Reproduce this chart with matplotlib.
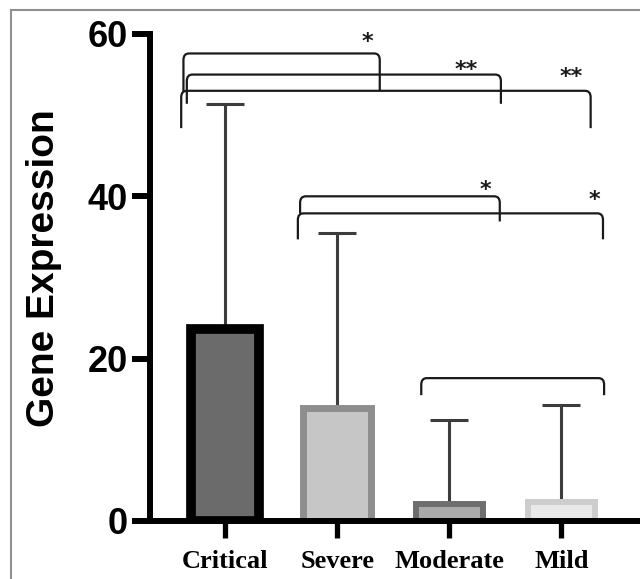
import numpy as np
import matplotlib.pyplot as plt
from matplotlib.path import Path
from matplotlib.patches import PathPatch
from matplotlib.lines import Line2D

# данные
groups = ['Critical', 'Severe', 'Moderate', 'Mild']
means = [23.7, 13.9, 2.1, 2.4]
upper_err = [27.7, 21.6, 10.3, 11.9]

fills = ['#6b6b6b', '#c6c6c6', '#a9a9a9', '#e8e8e8']
edges = ['#000000', '#8e8e8e', '#6e6e6e', '#cdcdcd']
edge_w = [7.0, 5.0, 4.3, 4.3]

# скобки сравнения: начало, конец, верх, низ левого и правого хвоста, метка
br_x0 = [-0.37, -0.34, -0.39, 0.67, 0.65, 1.75]
br_x1 = [1.38, 2.46, 3.26, 2.45, 3.37, 3.38]
br_top = [57.6, 55.0, 53.0, 40.0, 37.9, 17.6]
br_low_l = [52.9, 51.4, 48.4, 37.9, 34.7, 15.5]
br_low_r = [53.0, 51.4, 48.4, 36.9, 34.7, 15.5]
star_x = [1.27, 2.15, 3.09, 2.32, 3.29, None]
star_y = [59.0, 55.6, 54.7, 40.8, 39.6, None]
star_txt = ['*', '**', '**', '*', '*', '']


def bracket(ax, x0, x1, top, lo_l, lo_r, rx=0.05, ry=0.8):
    verts = [(x0, lo_l), (x0, top - ry), (x0, top), (x0 + rx, top),
             (x1 - rx, top), (x1, top), (x1, top - ry), (x1, lo_r)]
    codes = [Path.MOVETO, Path.LINETO, Path.CURVE3, Path.CURVE3,
             Path.LINETO, Path.CURVE3, Path.CURVE3, Path.LINETO]
    ax.add_patch(PathPatch(Path(verts, codes), fill=False, lw=1.6,
                           edgecolor='#1a1a1a', clip_on=False))


fig = plt.figure(figsize=(6.4, 5.79), dpi=100)
ax = fig.add_axes([0.2344, 0.1002, 0.7656, 0.8411])

x = np.arange(len(groups))
ax.bar(x, means, width=0.6, color=fills, edgecolor=edges, linewidth=edge_w, zorder=2)
ax.errorbar(x, means, yerr=[np.zeros(len(x)), upper_err], fmt='none',
            ecolor='#3c3c3c', elinewidth=2.2, capsize=14, capthick=2.2, zorder=1)

for i in range(len(br_x0)):
    bracket(ax, br_x0[i], br_x1[i], br_top[i], br_low_l[i], br_low_r[i])
    if star_txt[i]:
        ax.text(star_x[i], star_y[i], star_txt[i], ha='center', va='center',
                fontsize=16, fontweight='bold', color='#1a1a1a')

ax.set_xlim(-0.668, 3.70)
ax.set_ylim(0, 60)
ax.set_yticks([0, 20, 40, 60])
ax.set_xticks(x)
ax.set_xticklabels(groups, fontfamily='Liberation Serif', fontweight='bold', fontsize=19)
for lab in ax.get_yticklabels():
    lab.set_fontfamily('Liberation Sans')
    lab.set_fontweight('bold')
    lab.set_fontsize(26)

ax.spines['top'].set_visible(False)
ax.spines['right'].set_visible(False)
ax.spines['left'].set_linewidth(4.3)
ax.spines['bottom'].set_linewidth(4.3)
ax.tick_params(axis='y', length=13, width=4.3, pad=3)
ax.tick_params(axis='x', length=12, width=3.8, pad=9)

fig.text(0.069, 1 - 268 / 579, 'Gene Expression', rotation=90, ha='center', va='center',
         fontfamily='Liberation Sans', fontweight='bold', fontsize=28)

# серая рамка слева и сверху
fig.add_artist(Line2D([0.017, 0.017], [0, 1 - 10 / 579], color='#8f8f8f', lw=1.5))
fig.add_artist(Line2D([0.017, 1], [1 - 10 / 579, 1 - 10 / 579], color='#8f8f8f', lw=1.5))

fig.savefig('out.png', dpi=100)
